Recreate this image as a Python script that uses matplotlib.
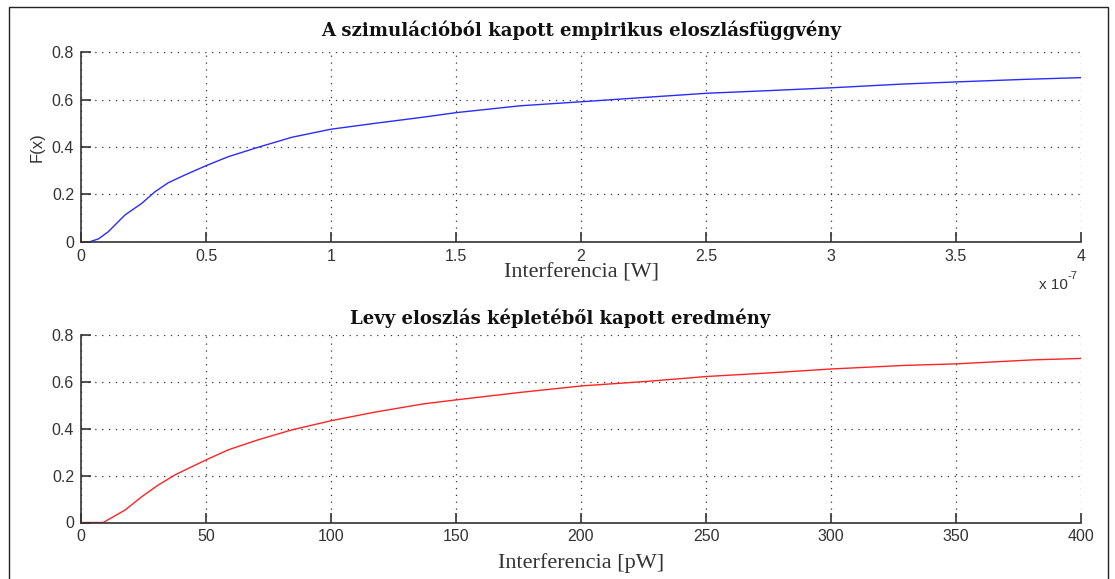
import numpy as np
import matplotlib.pyplot as plt
from matplotlib.patches import Rectangle

# empirical CDF from the simulation, x in units of 1e-7 W
emp_x = [0.036, 0.07, 0.109, 0.176, 0.243, 0.296, 0.349, 0.416, 0.5, 0.589, 0.709,
         0.843, 0.999, 1.176, 1.369, 1.499, 1.756, 2.0, 2.263, 2.503, 2.749, 3.0,
         3.289, 3.503, 3.783, 4.0]
emp_F = [0.0, 0.012, 0.042, 0.113, 0.162, 0.211, 0.249, 0.282, 0.321, 0.359, 0.399,
         0.441, 0.475, 0.5, 0.526, 0.545, 0.574, 0.591, 0.61, 0.627, 0.638, 0.65,
         0.666, 0.675, 0.686, 0.693]

# Levy CDF, x in pW
levy_x = [0, 8.9, 17.6, 24.3, 30.9, 37.6, 41.6, 50, 58.9, 70.9, 84.3, 99.9, 117.6,
          136.9, 149.9, 175.6, 200.5, 226.3, 250.3, 275, 300, 328.9, 350.3, 380.9, 400]
levy_F = [0, 0, 0.053, 0.11, 0.16, 0.203, 0.224, 0.267, 0.31, 0.353, 0.395, 0.434,
          0.471, 0.506, 0.523, 0.555, 0.583, 0.602, 0.623, 0.638, 0.655, 0.67, 0.677,
          0.694, 0.70]

top_xticks = [0, 0.5, 1, 1.5, 2, 2.5, 3, 3.5, 4]
top_xticklabels = ['0', '0.5', '1', '1.5', '2', '2.5', '3', '3.5', '4']
bot_xticks = [0, 50, 100, 150, 200, 250, 300, 350, 400]
yticks = [0, 0.2, 0.4, 0.6, 0.8]
yticklabels = ['0', '0.2', '0.4', '0.6', '0.8']

W, H = 1115, 579
fig = plt.figure(figsize=(W / 100, H / 100), dpi=100)
fig.patch.set_facecolor('white')

# outer frame
fig.patches.append(Rectangle((9 / W, -0.05), 1099 / W, 1.05 - 7 / H, transform=fig.transFigure,
                             fill=False, edgecolor='#222222', linewidth=1.0))

sans = 'Liberation Sans'
serif = 'DejaVu Serif'
tickcol = '#333333'

ax1 = fig.add_axes([81 / W, 1 - 241.7 / H, 1000 / W, 189.4 / H])
ax2 = fig.add_axes([81 / W, 1 - 522.5 / H, 1000 / W, 187.5 / H])


def style(ax, xticks, xlabels):
    ax.set_ylim(0, 0.8)
    ax.set_xticks(xticks)
    ax.set_xticklabels(xlabels, family=sans, fontsize=11.5, color=tickcol)
    ax.set_yticks(yticks)
    ax.set_yticklabels(yticklabels, family=sans, fontsize=11.5, color=tickcol)
    ax.tick_params(direction='in', length=7, width=1.2, color='#333333', pad=5)
    ax.spines['top'].set_visible(False)
    ax.spines['right'].set_visible(False)
    for s in ('left', 'bottom'):
        ax.spines[s].set_color('#333333')
        ax.spines[s].set_linewidth(1.2)
    ax.grid(True, color='#333333', linestyle=(0, (1, 4.5)), linewidth=0.9)
    ax.set_axisbelow(True)


ax1.plot(emp_x, emp_F, color='#2b2bff', linewidth=1.0)
ax1.set_xlim(0, 4)
style(ax1, top_xticks, top_xticklabels)
ax1.set_ylabel('F(x)', family=sans, fontsize=12, color=tickcol, labelpad=5)
ax1.set_xlabel('Interferencia [W]', family='Liberation Serif', fontsize=16, color=tickcol, labelpad=0)
fig.text(581 / W, 1 - 30 / H, 'A szimulációból kapott empirikus eloszlásfüggvény',
         family=serif, fontweight='bold', fontsize=13.1, ha='center', va='center', color='#111111')
fig.text(1068 / W, 1 - 285 / H, 'x 10', family=sans, fontsize=11, ha='right', va='center', color=tickcol)
fig.text(1068 / W, 1 - 276 / H, '-7', family=sans, fontsize=8, ha='left', va='center', color=tickcol)

ax2.plot(levy_x, levy_F, color='#ff2424', linewidth=1.0)
ax2.set_xlim(0, 400)
style(ax2, bot_xticks, [str(v) for v in bot_xticks])
ax2.set_xlabel('Interferencia [pW]', family='Liberation Serif', fontsize=16, color=tickcol, labelpad=6)
fig.text(560 / W, 1 - 318 / H, 'Levy eloszlás képletéből kapott eredmény',
         family=serif, fontweight='bold', fontsize=13, ha='center', va='center', color='#111111')

fig.savefig('out.png', dpi=100)
